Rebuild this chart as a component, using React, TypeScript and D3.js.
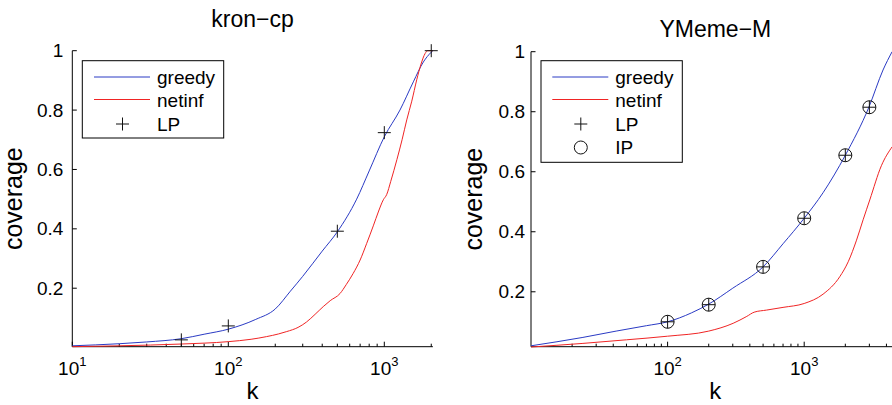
import React from "react";
import * as d3 from "d3";

// kron-cp panel
const kronGreedy: [number, number][] = [
  [10, 0.006], [20, 0.013], [30, 0.019], [50, 0.03], [70, 0.045], [100, 0.062],
  [150, 0.095], [200, 0.13], [250, 0.19], [300, 0.24], [400, 0.325], [500, 0.39],
  [665, 0.5], [800, 0.595], [1000, 0.71], [1260, 0.8], [1535, 0.895], [1780, 0.962],
  [2000, 0.995], [2048, 1.0],
];
const kronNetinf: [number, number][] = [
  [10, 0.003], [20, 0.006], [50, 0.012], [100, 0.02], [140, 0.028], [176, 0.037],
  [210, 0.046], [237, 0.054], [280, 0.068], [317, 0.086], [360, 0.112], [406, 0.138],
  [450, 0.158], [520, 0.182], [570, 0.212], [632, 0.25], [700, 0.295], [770, 0.35],
  [850, 0.41], [920, 0.46], [986, 0.498], [1035, 0.515], [1100, 0.56], [1204, 0.633],
  [1300, 0.7], [1393, 0.767], [1500, 0.83], [1614, 0.902], [1720, 0.955],
  [1824, 0.99], [1900, 1.0], [2048, 1.0],
];
const kronLP: [number, number][] = [
  [50, 0.026], [100, 0.073], [500, 0.392], [1000, 0.724], [2000, 1.0],
];

// YMeme-M panel
const ymemeGreedy: [number, number][] = [
  [10, 0.02], [24, 0.048], [42, 0.069], [70, 0.087], [100, 0.1], [150, 0.13],
  [200, 0.159], [300, 0.212], [500, 0.283], [700, 0.36], [1000, 0.445],
  [1374, 0.53], [2000, 0.655], [2975, 0.815], [3776, 0.939], [4400, 1.0],
];
const ymemeNetinf: [number, number][] = [
  [10, 0.016], [24, 0.028], [50, 0.04], [100, 0.052], [200, 0.069], [302, 0.095],
  [380, 0.118], [430, 0.132], [530, 0.139], [700, 0.148], [1000, 0.161],
  [1374, 0.192], [1820, 0.25], [2100, 0.3], [2416, 0.372], [2700, 0.44],
  [3020, 0.506], [3672, 0.62], [4400, 0.683],
];
const ymemeLP: [number, number][] = [
  [100, 0.1], [200, 0.157], [500, 0.283], [1000, 0.445], [2000, 0.655], [3000, 0.815],
];
const ymemeIP = ymemeLP;

const yTicks = [0.2, 0.4, 0.6, 0.8, 1];
const font = "'Liberation Sans', Arial, Helvetica, sans-serif";
const BLUE = "#2a3ac4";
const RED = "#f02424";

function Plus({ x, y }: { x: number; y: number }) {
  const s = 6.5;
  return (
    <g stroke="#111" strokeWidth={1}>
      <line x1={x - s} x2={x + s} y1={y} y2={y} />
      <line x1={x} x2={x} y1={y - s} y2={y + s} />
    </g>
  );
}

function Panel(props: any) {
  const { title, titleY, xDomain, xRange, yDomain, yRange, xLabels, greedy, netinf, lp, ip,
    tickGap, ylabelX, legend } = props;
  const x = d3.scaleLog().domain(xDomain).range(xRange);
  const y = d3.scaleLinear().domain(yDomain).range(yRange);
  const smooth = d3.line<[number, number]>().x(d => x(d[0])).y(d => y(d[1])).curve(d3.curveMonotoneX);

  const minor: number[] = [];
  for (let dec = 10; dec < xDomain[1]; dec *= 10) {
    for (let m = 2; m <= 9; m++) if (dec * m <= xDomain[1]) minor.push(dec * m);
  }
  const x0 = xRange[0], x1 = xRange[1], yb = yRange[0];
  const mid = (x0 + x1) / 2;

  return (
    <g fontFamily={font}>
      <text x={mid} y={titleY} textAnchor="middle" fontSize={23}>{title}</text>
      {/* axes */}
      <line x1={x0} x2={x1} y1={yb} y2={yb} stroke="#000" />
      <line x1={x0} x2={x0} y1={yb} y2={y(1)} stroke="#000" />
      {minor.map(v => (
        <line key={"m" + v} x1={x(v)} x2={x(v)} y1={yb} y2={yb - 3} stroke="#000" />
      ))}
      {xLabels.map((v: number) => (
        <g key={"x" + v}>
          <line x1={x(v)} x2={x(v)} y1={yb} y2={yb - 5} stroke="#000" />
          <text x={x(v)} y={375} textAnchor="middle" fontSize={19}>
            10<tspan dy={-9} fontSize={13}>{Math.round(Math.log10(v))}</tspan>
          </text>
        </g>
      ))}
      {yTicks.map(v => (
        <g key={"y" + v}>
          <line x1={x0} x2={x0 + 4.5} y1={y(v)} y2={y(v)} stroke="#000" />
          <text x={x0 - tickGap} y={y(v)} textAnchor="end" dominantBaseline="central" fontSize={19}>{v}</text>
        </g>
      ))}
      <text x={mid} y={399} textAnchor="middle" fontSize={24}>k</text>
      <text transform={`translate(${ylabelX},${(yb + y(1)) / 2}) rotate(-90)`} textAnchor="middle" fontSize={25}>coverage</text>

      {/* series */}
      <path d={smooth(greedy) || ""} fill="none" stroke={BLUE} strokeWidth={1} />
      <path d={smooth(netinf) || ""} fill="none" stroke={RED} strokeWidth={1} />
      {ip && ip.map((d: [number, number], i: number) => (
        <circle key={"ip" + i} cx={x(d[0])} cy={y(d[1])} r={6.5} fill="none" stroke="#111" />
      ))}
      {lp.map((d: [number, number], i: number) => <Plus key={"lp" + i} x={x(d[0])} y={y(d[1])} />)}

      {/* legend */}
      <rect x={legend.x} y={legend.y} width={legend.w} height={legend.h} fill="#fff" stroke="#000" />
      <line x1={legend.lx} x2={legend.lx + 56} y1={77} y2={77} stroke={BLUE} />
      <line x1={legend.lx} x2={legend.lx + 56} y1={99.5} y2={99.5} stroke={RED} />
      <Plus x={legend.lx + 28.5} y={124} />
      {ip && <circle cx={legend.lx + 28.5} cy={147.5} r={6.5} fill="none" stroke="#111" />}
      <g fontSize={19}>
        <text x={legend.lx + 63} y={83.5}>greedy</text>
        <text x={legend.lx + 63} y={106.5}>netinf</text>
        <text x={legend.lx + 63} y={130.5}>LP</text>
        {ip && <text x={legend.lx + 63} y={153.5}>IP</text>}
      </g>
    </g>
  );
}

export default function App() {
  return (
    <svg width={892} height={405} style={{ position: "absolute", left: 0, top: 0, background: "#fff" }}>
      <rect width={892} height={405} fill="#fff" />
      <Panel
        title="kron−cp" titleY={27}
        xDomain={[10, 2048]} xRange={[72.3, 72.3 + Math.log10(204.8) * 156]}
        yDomain={[0.003, 1]} yRange={[346.7, 50.7]}
        xLabels={[10, 100, 1000]}
        greedy={kronGreedy} netinf={kronNetinf} lp={kronLP}
        tickGap={9} ylabelX={22}
        legend={{ x: 82.3, y: 60.7, w: 141.4, h: 77.3, lx: 94 }}
      />
      <Panel
        title="YMeme−M" titleY={37}
        xDomain={[10, 5000]} xRange={[531, 531 + Math.log10(500) * 136.6]}
        yDomain={[0.017, 1]} yRange={[346.7, 51.7]}
        xLabels={[100, 1000]}
        greedy={ymemeGreedy} netinf={ymemeNetinf} lp={ymemeLP} ip={ymemeIP}
        tickGap={6} ylabelX={482}
        legend={{ x: 541, y: 60.7, w: 141.3, h: 101.6, lx: 552.3 }}
      />
    </svg>
  );
}
